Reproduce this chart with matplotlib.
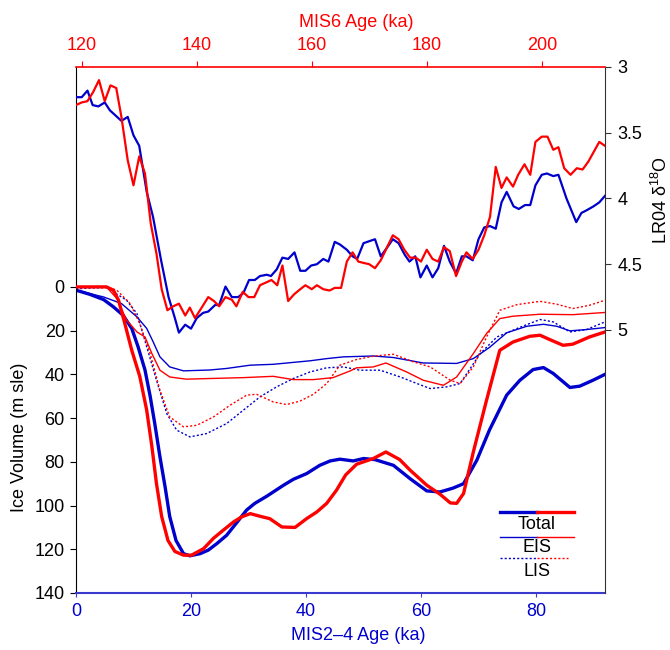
import numpy as np
import matplotlib.pyplot as plt

plt.rcParams['font.family'] = ['Liberation Sans', 'DejaVu Sans']
plt.rcParams['mathtext.fontset'] = 'custom'
plt.rcParams['mathtext.rm'] = 'Liberation Sans'
plt.rcParams['mathtext.it'] = 'Liberation Sans:italic'

BLUE = '#0000cc'
AXBLUE = '#3a3ad0'
RED = '#ff0000'

# LR04 d18O, MIS2-4 (bottom axis ages)
d18_mis24_age = [0, 1, 2, 2.9, 3.9, 5, 5.9, 7.9, 9, 10, 11, 12.3, 13.4, 14.8, 16.1, 17.2, 17.9, 19, 20, 21,
                 22.1, 23, 24.2, 24.9, 26, 27.1, 28.2, 29.1, 30.1, 31.1, 32, 33.2, 33.9, 34.9, 35.9, 36.9,
                 38, 39, 39.9, 40.9, 41.9, 43, 43.9, 45, 45.9, 47.1, 48.1, 48.9, 50, 52, 53, 54, 55.1, 56.1,
                 57.2, 58, 59, 59.9, 61, 62, 63, 64, 65, 66.1, 67.1, 67.9, 69, 70, 71, 72, 73, 74, 74.9,
                 76.1, 77, 78.1, 79, 79.9, 81, 81.9, 83, 83.9, 85.3, 87, 87.9, 88.8, 90, 91, 92]
d18_mis24 = [3.23, 3.23, 3.18, 3.29, 3.30, 3.27, 3.33, 3.41, 3.38, 3.52, 3.60, 3.95, 4.14, 4.47, 4.75, 4.91,
             5.02, 4.96, 4.99, 4.91, 4.87, 4.86, 4.81, 4.81, 4.67, 4.75, 4.75, 4.72, 4.62, 4.62, 4.59, 4.58,
             4.59, 4.54, 4.45, 4.46, 4.41, 4.55, 4.55, 4.51, 4.50, 4.46, 4.48, 4.33, 4.35, 4.39, 4.44, 4.46,
             4.34, 4.31, 4.44, 4.38, 4.31, 4.34, 4.43, 4.48, 4.44, 4.60, 4.51, 4.60, 4.53, 4.36, 4.48, 4.57,
             4.44, 4.44, 4.47, 4.31, 4.22, 4.21, 4.23, 4.03, 3.95, 4.06, 4.08, 4.05, 4.05, 3.90, 3.82, 3.81,
             3.83, 3.82, 4.00, 4.18, 4.11, 4.09, 4.06, 4.03, 3.98]

# LR04 d18O, MIS6 (top axis ages)
d18_mis6_age = [119, 120, 121, 122, 123, 124, 125, 126, 126.9, 128, 129, 130, 131, 132, 133, 133.9, 134.9,
                135.9, 136.9, 138, 138.8, 139.7, 141, 142, 143, 143.9, 145, 146.1, 146.9, 148, 149, 150,
                151, 152, 153, 154, 154.9, 155.9, 156.9, 158, 158.9, 160, 160.9, 162, 163.1, 164, 165.1,
                166.1, 167.1, 168.1, 169, 170, 171, 172, 173, 174.1, 175.1, 176.1, 177.1, 178.1, 179, 180,
                181, 182, 183, 184, 185.1, 186.1, 186.9, 188, 189, 190, 191, 192, 193, 193.9, 195, 195.9,
                197, 198, 198.9, 200, 201, 202, 202.9, 203.9, 205, 206.1, 207.1, 208.1, 210, 211]
d18_mis6 = [3.29, 3.27, 3.26, 3.19, 3.10, 3.26, 3.14, 3.16, 3.38, 3.71, 3.90, 3.68, 3.81, 4.19, 4.42, 4.69,
            4.85, 4.82, 4.80, 4.89, 4.83, 4.91, 4.82, 4.75, 4.78, 4.82, 4.75, 4.77, 4.82, 4.71, 4.75, 4.75,
            4.66, 4.64, 4.62, 4.66, 4.51, 4.78, 4.73, 4.69, 4.66, 4.69, 4.66, 4.69, 4.70, 4.68, 4.68, 4.48,
            4.41, 4.48, 4.49, 4.50, 4.53, 4.47, 4.38, 4.28, 4.31, 4.39, 4.45, 4.45, 4.48, 4.39, 4.46, 4.48,
            4.37, 4.40, 4.59, 4.48, 4.41, 4.46, 4.39, 4.28, 4.14, 3.76, 3.92, 3.84, 3.91, 3.82, 3.74, 3.82,
            3.57, 3.53, 3.53, 3.63, 3.61, 3.77, 3.82, 3.77, 3.78, 3.72, 3.57, 3.60]

# ice volume (m sle), MIS2-4
tot24_age = [0, 2.4, 4.8, 6.5, 8.2, 9.7, 10.8, 12.0, 12.9, 13.7, 14.6, 15.5, 16.3, 17.4, 18.7, 19.8, 21.6,
             23.0, 24.5, 26.2, 27.9, 29.7, 31.1, 33.2, 36.1, 37.8, 40.1, 42.4, 44.2, 45.9, 48.2, 50.0, 52.0,
             55.2, 58.1, 61.0, 63.3, 65.6, 67.4, 69.7, 71.9, 74.9, 77.2, 79.5, 81.3, 83.0, 85.9, 87.6, 89.9, 92.0]
tot24 = [1.5, 3.4, 5.8, 9.1, 13, 19, 27.4, 38, 50, 62.5, 77.7, 91.5, 105, 116, 122, 123, 122, 120.4, 117.4,
         113.6, 108, 102, 99, 95.7, 90.7, 88, 85.4, 81.6, 79.6, 78.8, 79.6, 78.5, 79, 81.6, 87.7, 93.3, 93.8,
         92, 90, 79.3, 65.5, 49.5, 42.7, 37.8, 36.9, 39.6, 46, 45.4, 42.7, 40]
eis24_age = [0, 4.8, 7.9, 10.6, 12.3, 13.4, 14.6, 16.3, 18.7, 23.3, 26.2, 30.3, 34.3, 40.7, 43.6, 46.5, 51.7,
             55.2, 60.4, 66.2, 69.1, 71.9, 74.9, 78.4, 81.3, 83.6, 85.9, 88.8, 92.0]
eis24 = [1.5, 4.6, 7.6, 13.7, 19, 25, 32, 36.6, 38.4, 38, 37.3, 35.8, 35.4, 33.8, 32.8, 32, 31.6, 32.3, 34.8,
         35, 32.8, 27.7, 21, 18, 17.1, 18, 20.1, 19.5, 18.6]
lis24_age = [0, 5.3, 8.8, 10.6, 12.3, 14.0, 15.8, 17.5, 19.8, 22.7, 26.2, 29.1, 32.0, 34.9, 37.8, 40.7, 43.6,
             46.5, 49.4, 52.9, 56.4, 59.3, 61.6, 64.5, 66.8, 70.3, 73.2, 76.7, 80.7, 83.0, 85.9, 88.8, 92.0]
lis24 = [0.8, 0.3, 6.1, 12.2, 27.4, 42.7, 58, 65.5, 68.6, 67.1, 62.5, 56.4, 50.3, 45.7, 41.9, 38.9, 37, 36.6,
         38.1, 38.1, 41.2, 44.2, 46.5, 45.7, 44.2, 30.5, 22.9, 19, 14.9, 16, 20.6, 19.5, 16]

# ice volume (m sle), MIS6
tot6_age = [119, 122, 124.3, 125.5, 126.4, 127.5, 128.7, 130.1, 131.3, 132.2, 133, 133.9, 135, 136.2, 137.7,
            139.1, 141.2, 142.9, 144.6, 146.4, 147.8, 149.3, 151, 152.7, 154.8, 157.1, 159.1, 160.9, 162.6,
            164.3, 165.9, 167.8, 170.7, 172.9, 175.3, 177.1, 180, 182.3, 184.1, 185.2, 186.4, 188.1, 190.4,
            192.7, 195, 197.9, 199.7, 201.4, 203.7, 205.4, 208.3, 211]
tot6 = [0, 0, 0, 1.5, 6.1, 16.8, 29, 41, 56.4, 73, 90, 105, 116, 121, 122.7, 122.7, 119.7, 115, 111.3, 107.5,
        105.2, 103.7, 104.9, 106, 109.8, 110, 106, 102.9, 99, 93, 86, 81.1, 78.5, 75.5, 79, 83.8, 90.7, 94.8,
        98.8, 99, 94.5, 75.5, 51.8, 29, 25.2, 22.6, 22.1, 24.1, 26.7, 26.2, 22.9, 20.6]
eis6_age = [119, 124.3, 126.1, 127.8, 129.6, 131, 132.2, 133.6, 135.3, 138.2, 142.3, 148.1, 153.3, 156.8,
            160.3, 163.7, 166.7, 167.8, 170.7, 172.9, 176.5, 179.4, 182.9, 185.2, 188.1, 190.4, 192.7, 195,
            199.7, 205.4, 211]
eis6 = [0, 0, 5.3, 15.2, 20.6, 22.9, 30.5, 38.1, 41.2, 42.2, 41.9, 41.5, 40.9, 42.4, 42.4, 41.5, 38.4, 37,
        36.6, 34.8, 38.9, 42.7, 45, 41.2, 30.5, 21.3, 14.5, 13.4, 12.5, 12.7, 11.7]
lis6_age = [119, 124.3, 126.1, 128.4, 130.1, 131.9, 133.6, 135.3, 137.7, 140, 142.9, 145.8, 148.7, 150.4,
            153.3, 155.6, 157.9, 160.3, 162.6, 164.9, 167.8, 170.7, 174.2, 177.7, 180.6, 184.1, 185.8, 188.1,
            190.4, 192.7, 195.7, 199.7, 202.6, 205.4, 208.3, 211]
lis6 = [0, 0, 1.5, 7.6, 16.8, 30.5, 47.3, 59.5, 64, 63.3, 59.5, 54.1, 49.5, 49.1, 52.6, 53.8, 52.3, 49.1,
        44.2, 35.8, 33.2, 31.7, 30.8, 34.3, 36.6, 42.7, 44.2, 36.6, 22.9, 10.7, 8.1, 6.6, 7.9, 9.9, 8.4, 6.1]

fig = plt.figure(figsize=(6.7, 6.5), dpi=100)
ax = fig.add_axes([0.1134, 0.0877, 0.7896, 0.8093])
axr = ax.twinx()
axt = ax.twiny()
axtr = axt.twinx()

ax.set_xlim(0, 92)
ax.set_ylim(140, -100.6)
axt.set_xlim(119, 211)
axr.set_ylim(7, 3)
axtr.set_ylim(7, 3)

dots = (0, (1.5, 1.5))
# ice volume
ax.plot(lis24_age, lis24, color=BLUE, lw=1.0, ls=dots)
ax.plot(eis24_age, eis24, color=BLUE, lw=1.0)
ax.plot(tot24_age, tot24, color=BLUE, lw=2.4)
axt.plot(lis6_age, lis6, color=RED, lw=1.0, ls=dots)
axt.plot(eis6_age, eis6, color=RED, lw=1.0)
axt.plot(tot6_age, tot6, color=RED, lw=2.4)

# d18O
axr.plot(d18_mis24_age, d18_mis24, color=BLUE, lw=1.6)
axtr.plot(d18_mis6_age, d18_mis6, color=RED, lw=1.6)

fs = 13
ax.set_yticks(range(0, 141, 20))
ax.set_xticks([0, 20, 40, 60, 80])
ax.tick_params(axis='y', labelsize=fs, length=4, pad=4, color='black')
ax.tick_params(axis='x', labelsize=fs, length=3, pad=4, color=AXBLUE, labelcolor=BLUE)
ax.spines['bottom'].set_color(AXBLUE)
ax.spines['bottom'].set_linewidth(1.5)
ax.spines['left'].set_color('black')
ax.set_xlabel('MIS2\u20134 Age (ka)', color=BLUE, fontsize=fs)
ax.xaxis.set_label_coords(0.533, -0.064)
ax.set_ylabel('Ice Volume (m sle)', fontsize=fs)
ax.yaxis.set_label_coords(-0.09, 0.295)

axt.set_xticks([120, 140, 160, 180, 200])
axt.tick_params(axis='x', labelsize=fs, length=4, pad=5, color=RED, labelcolor=RED)
axt.spines['top'].set_color(RED)
axt.spines['top'].set_linewidth(1.2)
axt.set_xlabel('MIS6 Age (ka)', color=RED, fontsize=fs)
axt.xaxis.set_label_coords(0.529, 1.076)

axr.set_yticks([3, 3.5, 4, 4.5, 5])
axr.set_yticklabels(['3', '3.5', '4', '4.5', '5'])
axr.tick_params(axis='y', labelsize=fs, length=4, pad=5, color='#333333')
axr.spines['right'].set_color('#333333')
axr.set_ylabel('LR04 \u03b4$^{18}$O', fontsize=fs, rotation=90)
axr.yaxis.set_label_coords(1.086, 0.747)

axtr.set_yticks([])
axtr.tick_params(axis='y', right=False, labelright=False)
for s in axtr.spines.values():
    s.set_visible(False)
for s in ['left', 'bottom', 'right']:
    axt.spines[s].set_visible(False)
for s in ['left', 'bottom', 'top']:
    axr.spines[s].set_visible(False)
ax.spines['top'].set_visible(False)
ax.spines['right'].set_visible(False)

# legend drawn by hand
tr = ax.transAxes
ax.plot([0.801, 0.871], [0.1546, 0.1546], color=BLUE, lw=2.4, transform=tr)
ax.plot([0.871, 0.941], [0.1546, 0.1546], color=RED, lw=2.4, transform=tr)
ax.plot([0.801, 0.871], [0.107, 0.107], color=BLUE, lw=1.0, transform=tr)
ax.plot([0.871, 0.941], [0.107, 0.107], color=RED, lw=1.0, transform=tr)
ax.plot([0.801, 0.871], [0.066, 0.066], color=BLUE, lw=1.0, ls=dots, transform=tr)
ax.plot([0.871, 0.930], [0.066, 0.066], color=RED, lw=1.0, ls=dots, transform=tr)
for label, yy in [('Total', 0.1217), ('EIS', 0.0785), ('LIS', 0.033)]:
    ax.text(0.871, yy, label, transform=tr, ha='center', va='baseline', fontsize=fs)

fig.savefig('out.png', dpi=100)
